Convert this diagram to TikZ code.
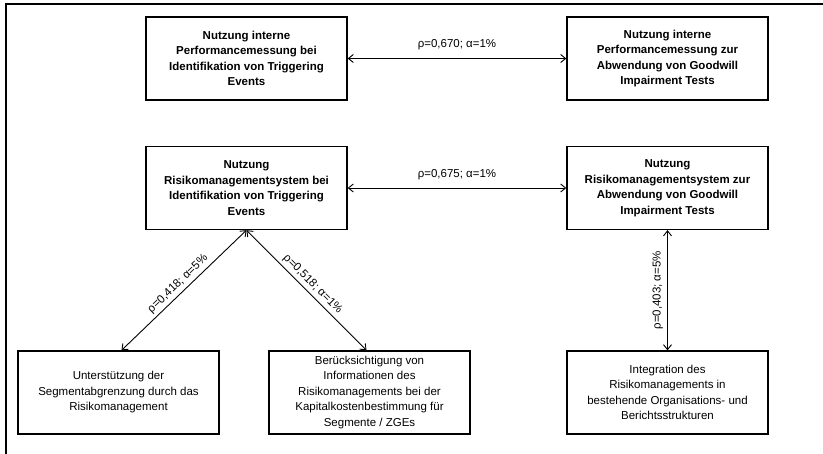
\documentclass[tikz,border=0pt]{standalone}
\usepackage{fontspec}
\setmainfont{Liberation Sans}
\usetikzlibrary{arrows.meta}
\begin{document}
\begin{tikzpicture}[x=1pt,y=-1pt,
  box/.style={draw, line width=1.3pt, minimum width=201pt, minimum height=83pt, inner sep=0pt, align=center, font=\fontsize{11.5}{15.5}\selectfont},
  bbox/.style={box, font=\bfseries\fontsize{11.5}{15.5}\selectfont},
  link/.style={{Straight Barb[length=5pt,width=8pt]}-{Straight Barb[length=5pt,width=8pt]}, line width=0.9pt},
  lab/.style={font=\fontsize{11.5}{13}\selectfont, inner sep=2pt},
  frame/.style={line width=1.4pt}]
\useasboundingbox (0,0) rectangle (823,454);
\coordinate (fl) at (6,454);
\coordinate (fc) at (6,4);
\coordinate (fr) at (823,4);
\draw[frame] (fl) -- (fc) -- (fr);

\node[bbox] (a) at (246.5,58.5) {Nutzung interne\\Performancemessung bei\\Identifikation von Triggering\\Events};
\node[bbox] (b) at (667.5,58.5) {Nutzung interne\\Performancemessung zur\\Abwendung von Goodwill\\Impairment Tests};
\node[bbox] (c) at (246.5,188) {Nutzung\\Risikomanagementsystem bei\\Identifikation von Triggering\\Events};
\node[bbox] (d) at (667.5,188) {Nutzung\\Risikomanagementsystem zur\\Abwendung von Goodwill\\Impairment Tests};
\node[box] (e) at (118.5,392.5) {Unterstützung der\\Segmentabgrenzung durch das\\Risikomanagement};
\node[box] (f) at (369.5,392.5) {Berücksichtigung von\\Informationen des\\Risikomanagements bei der\\Kapitalkostenbestimmung für\\Segmente / ZGEs};
\node[box] (g) at (667.5,392.5) {Integration des\\Risikomanagements in\\bestehende Organisations- und\\Berichtsstrukturen};

\draw[link] (a) -- node[lab, above=6pt] {ρ=0,670; α=1\%} (b);
\draw[link] (c) -- node[lab, above=6pt] {ρ=0,675; α=1\%} (d);
\draw[link] ([xshift=3pt]e.north) -- node[lab, sloped, above=1pt] {ρ=0,418; α=5\%} (c.south);
\draw[link] (c.south) -- node[lab, sloped, above=1pt] {ρ=0,518; α=1\%} ([xshift=-3pt]f.north);
\draw[link] (g) -- node[lab, sloped, above=2pt] {ρ=0,403; α=5\%} (d);
\end{tikzpicture}
\end{document}
